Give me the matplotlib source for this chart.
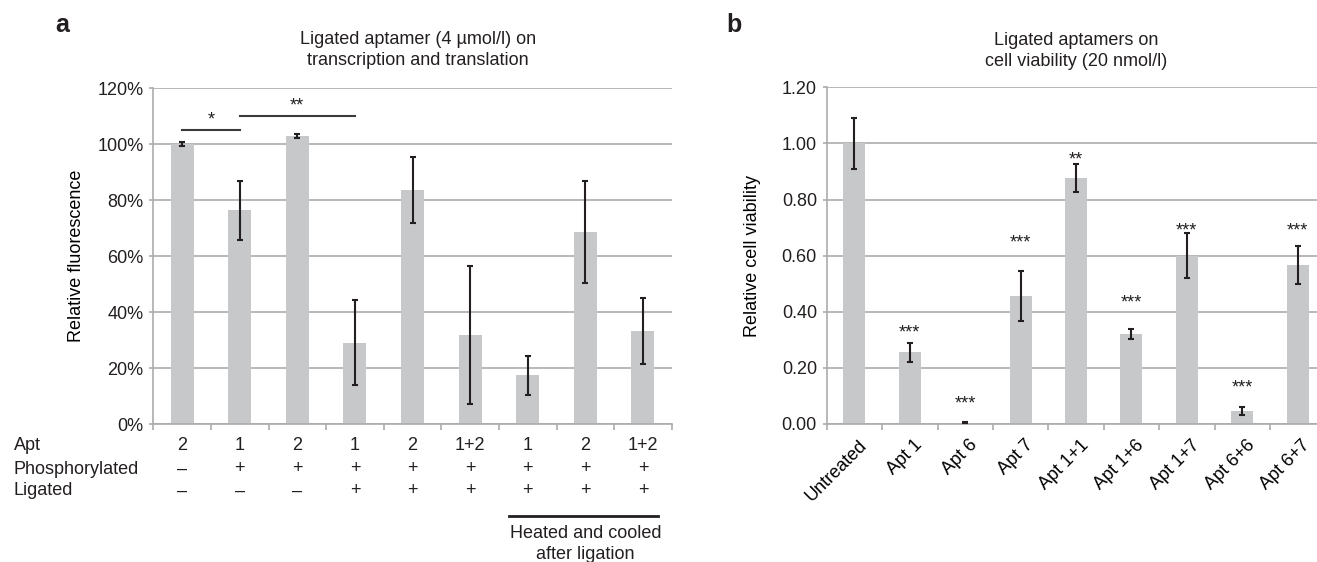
import matplotlib.pyplot as plt
import matplotlib.transforms as mtrans
import numpy as np

plt.rcParams['font.family'] = ['Liberation Sans', 'DejaVu Sans']
plt.rcParams['font.size'] = 13
plt.rcParams['text.color'] = '#231f20'

# panel a data
a_apt = ['2', '1', '2', '1', '2', '1+2', '1', '2', '1+2']
a_phos = ['–', '+', '+', '+', '+', '+', '+', '+', '+']
a_lig = ['–', '–', '–', '+', '+', '+', '+', '+', '+']
a_vals = [100, 76.4, 103, 29.1, 83.7, 31.8, 17.5, 68.6, 33.4]
a_err = [0.7, 10.6, 0.7, 15.2, 11.9, 24.7, 7.0, 18.3, 11.7]
# significance: (from bar, to bar, line height, label)
a_sig = [(0, 1, 105, '*'), (1, 3, 110, '**')]

# panel b data
b_labels = ['Untreated', 'Apt 1', 'Apt 6', 'Apt 7', 'Apt 1+1', 'Apt 1+6', 'Apt 1+7', 'Apt 6+6', 'Apt 6+7']
b_vals = [1.00, 0.255, 0.005, 0.456, 0.876, 0.320, 0.600, 0.046, 0.567]
b_err = [0.09, 0.035, 0.002, 0.09, 0.05, 0.017, 0.08, 0.015, 0.067]
b_stars = ['', '***', '***', '***', '**', '***', '***', '***', '***']
b_star_y = [0, 0.347, 0.094, 0.667, 0.961, 0.454, 0.71, 0.151, 0.71]

BAR = '#c7c8ca'
GRID = '#ababab'
INK = '#231f20'
FS = 13

W, H = 1317, 562
fig = plt.figure(figsize=(W/100, H/100), dpi=100)

def style(ax):
    ax.set_axisbelow(True)
    ax.yaxis.grid(True, color=GRID, lw=1.2)
    for s in ['top', 'right']:
        ax.spines[s].set_visible(False)
    for s in ['left', 'bottom']:
        ax.spines[s].set_color(GRID)
        ax.spines[s].set_linewidth(1.2)
    ax.tick_params(axis='y', length=3, color=GRID, width=1.2, pad=4, labelsize=FS, labelcolor=INK)
    ax.tick_params(axis='x', which='major', length=0)
    ax.tick_params(axis='x', which='minor', length=4, color=GRID, width=1.2)

# ---- panel a
ax = fig.add_axes([153.3/W, 1-424.3/H, 518.4/W, 336/H])
x = np.arange(len(a_vals))
ax.bar(x, a_vals, width=0.4, color=BAR, zorder=2)
ax.errorbar(x, a_vals, yerr=a_err, fmt='none', ecolor=INK, elinewidth=1.5, capsize=2.5, capthick=1.5, zorder=3)
ax.set_xlim(-0.5, 8.5)
ax.set_ylim(0, 120)
ax.set_yticks(np.arange(0, 121, 20))
ax.set_yticklabels(['%d%%' % v for v in range(0, 121, 20)])
ax.set_xticks(x)
ax.set_xticklabels([])
ax.set_xticks(np.arange(-0.5, 9, 1), minor=True)
style(ax)
tr = ax.get_xaxis_transform()
for i in range(len(a_vals)):
    ax.text(i, -0.062, a_apt[i], transform=tr, ha='center', va='center', fontsize=FS)
    ax.text(i, -0.133, a_phos[i], transform=tr, ha='center', va='center', fontsize=FS)
    ax.text(i, -0.198, a_lig[i], transform=tr, ha='center', va='center', fontsize=FS)
for y, t in [(445, 'Apt'), (469, 'Phosphorylated'), (490.5, 'Ligated')]:
    fig.text(14/W, 1-y/H, t, ha='left', va='center', fontsize=FS)
for i0, i1, h, lab in a_sig:
    ax.plot([i0, i1], [h, h], color='#3a3a3a', lw=1.5, clip_on=False, zorder=4)
    ax.annotate(lab, ((i0+i1)/2, h), xytext=(0, 1), textcoords='offset points',
                ha='center', va='bottom', fontsize=FS)
ax.plot([5.68, 8.27], [-0.272, -0.272], transform=tr, color=INK, lw=2.0, clip_on=False)
ax.text(7.0, -0.356, 'Heated and cooled\nafter ligation', transform=tr, ha='center', va='center',
        fontsize=FS, linespacing=1.35)
ax.set_ylabel('Relative fluorescence', fontsize=FS, va='center')
ax.yaxis.set_label_coords(-0.149, 0.5)
ax.text(0.51, 1.114, 'Ligated aptamer (4 µmol/l) on\ntranscription and translation', transform=ax.transAxes,
        ha='center', va='center', fontsize=FS, linespacing=1.35)
fig.text(61.7/W, 1-25/H, 'a', fontsize=18, fontweight='bold', ha='center', va='center')

# ---- panel b
bx = fig.add_axes([826.7/W, 1-424/H, 498.6/W, 336.7/H])
x = np.arange(len(b_vals))
bx.bar(x, b_vals, width=0.4, color=BAR, zorder=2)
bx.errorbar(x, b_vals, yerr=b_err, fmt='none', ecolor=INK, elinewidth=1.5, capsize=2.5, capthick=1.5, zorder=3)
bx.set_xlim(-0.5, 8.5)
bx.set_ylim(0, 1.2)
bx.set_yticks(np.arange(0, 1.21, 0.2))
bx.set_yticklabels(['%.2f' % v for v in np.arange(0, 1.21, 0.2)])
bx.set_xticks(x)
bx.set_xticks(np.arange(-0.5, 9, 1), minor=True)
style(bx)
bx.set_xticklabels(b_labels, rotation=45, ha='right', va='top', rotation_mode='anchor', fontsize=FS)
bx.tick_params(axis='x', which='major', pad=9)
off = mtrans.ScaledTranslation(4/100, 0, fig.dpi_scale_trans)
for lab in bx.get_xticklabels():
    lab.set_transform(lab.get_transform() + off)
for i in range(len(b_vals)):
    if b_stars[i]:
        bx.annotate(b_stars[i], (i, b_star_y[i]), xytext=(0, -7.5), textcoords='offset points',
                    ha='center', va='baseline', fontsize=FS)
bx.set_ylabel('Relative cell viability', fontsize=FS, va='center')
bx.yaxis.set_label_coords(-0.148, 0.5)
bx.text(0.5, 1.108, 'Ligated aptamers on\ncell viability (20 nmol/l)', transform=bx.transAxes,
        ha='center', va='center', fontsize=FS, linespacing=1.35)
fig.text(734/W, 1-25/H, 'b', fontsize=18, fontweight='bold', ha='center', va='center')

fig.savefig('out.png', dpi=100)
